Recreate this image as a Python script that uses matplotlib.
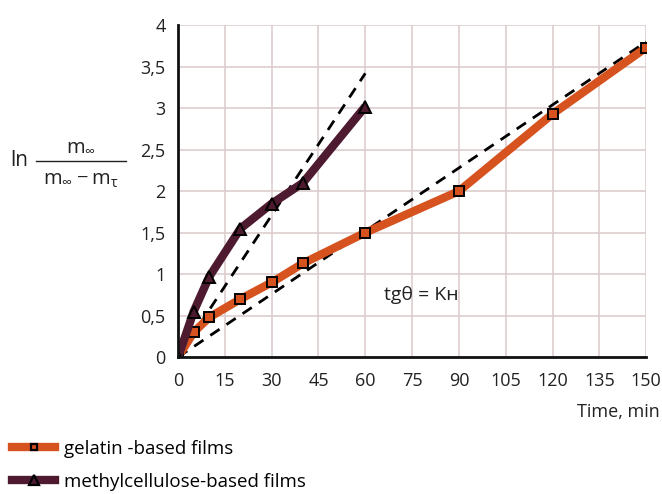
import matplotlib
matplotlib.use('Agg')
from matplotlib import pyplot as plt
from matplotlib.lines import Line2D
import matplotlib.ticker as ticker

plt.rcParams['font.family'] = ['Open Sans', 'DejaVu Sans']
plt.rcParams['mathtext.fontset'] = 'custom'
plt.rcParams['mathtext.rm'] = 'Open Sans'
plt.rcParams['mathtext.it'] = 'Open Sans'

# measured points, time in minutes
gel_t = [0, 5, 10, 20, 30, 40, 60, 90, 120, 150]
gel_y = [0, 0.3, 0.48, 0.7, 0.9, 1.13, 1.5, 2.0, 2.93, 3.73]
mc_t = [0, 5, 10, 20, 30, 40, 60]
mc_y = [0, 0.55, 0.97, 1.55, 1.85, 2.1, 3.02]

# linear fits (dashed)
gel_fit_t = [0, 150]
gel_fit_y = [0, 3.8]
mc_fit_t = [0, 60]
mc_fit_y = [0, 3.42]

x_ticks = [0, 15, 30, 45, 60, 75, 90, 105, 120, 135, 150]
y_ticks = [0, 0.5, 1, 1.5, 2, 2.5, 3, 3.5, 4]

gel_color = '#d6521f'
mc_color = '#4e1a2f'
grid_color = '#dccdcd'
txt = '#222222'

fig = plt.figure(figsize=(6.62, 4.94), dpi=100)
ax = fig.add_axes([0.269, 0.277, 0.707, 0.672])

ax.plot(gel_fit_t, gel_fit_y, color='black', lw=2, dashes=(4, 3), zorder=3)
ax.plot(mc_fit_t, mc_fit_y, color='black', lw=2, dashes=(4, 3), zorder=3)

gel_style = dict(color=gel_color, lw=6, marker='s', ms=6.5,
                 mfc=gel_color, mec='black', mew=1.4)
mc_style = dict(color=mc_color, lw=6, marker='^', ms=8.5,
                mfc=mc_color, mec='black', mew=1.4)
ax.plot(gel_t, gel_y, zorder=4, solid_capstyle='butt', **gel_style)
ax.plot(mc_t, mc_y, zorder=5, solid_capstyle='butt', **mc_style)

ax.set_xlim(0, 150)
ax.set_ylim(0, 4)
ax.set_xticks(x_ticks)
ax.set_yticks(y_ticks)
ax.yaxis.set_major_formatter(ticker.FuncFormatter(
    lambda v, p: ('%g' % v).replace('.', ',')))
ax.tick_params(length=0, labelsize=13, colors=txt)
ax.tick_params(axis='y', pad=9)
ax.tick_params(axis='x', pad=11)
ax.grid(True, color=grid_color, lw=1.2)
ax.set_axisbelow(True)
for s in ['top', 'right']:
    ax.spines[s].set_visible(False)
for s in ['left', 'bottom']:
    ax.spines[s].set_linewidth(2)
    ax.spines[s].set_color('#111111')
    ax.spines[s].set_zorder(6)

ax.text(66, 0.75, 'tgθ = Kн', fontsize=14, va='center', ha='left', color=txt)

# y-axis label as a fraction
W, H = 662, 494
def px(x, y):
    return x / W, 1 - y / H

fig.text(*px(10, 160), 'ln', fontsize=15, va='center', ha='left', color=txt)
fig.add_artist(Line2D([36 / W, 126 / W], [1 - 161 / H, 1 - 161 / H],
                      color=txt, lw=1))
fig.text(*px(81, 146), r'$\mathregular{m_{\infty}}$', fontsize=14.5,
         va='center', ha='center', color=txt)
fig.text(*px(81, 180), r'$\mathregular{m_{\infty} - m_{\tau}}$', fontsize=14.5,
         va='center', ha='center', color=txt)

fig.text(*px(660, 412), 'Time, min', fontsize=13, va='center', ha='right',
         color=txt)

# smaller markers in the legend keys
handles = [
    Line2D([], [], **dict(gel_style, ms=5, mew=1.6)),
    Line2D([], [], **dict(mc_style, ms=6.5, mew=1.6)),
]
fig.legend(handles, ['gelatin -based films', 'methylcellulose-based films'],
           loc='upper left', bbox_to_anchor=(12 / W, 1 - 440 / H), frameon=False,
           fontsize=13.5, handlelength=2.3, labelspacing=0.8, handletextpad=0.45,
           borderaxespad=0, borderpad=0)

fig.savefig('out.png', dpi=100)
